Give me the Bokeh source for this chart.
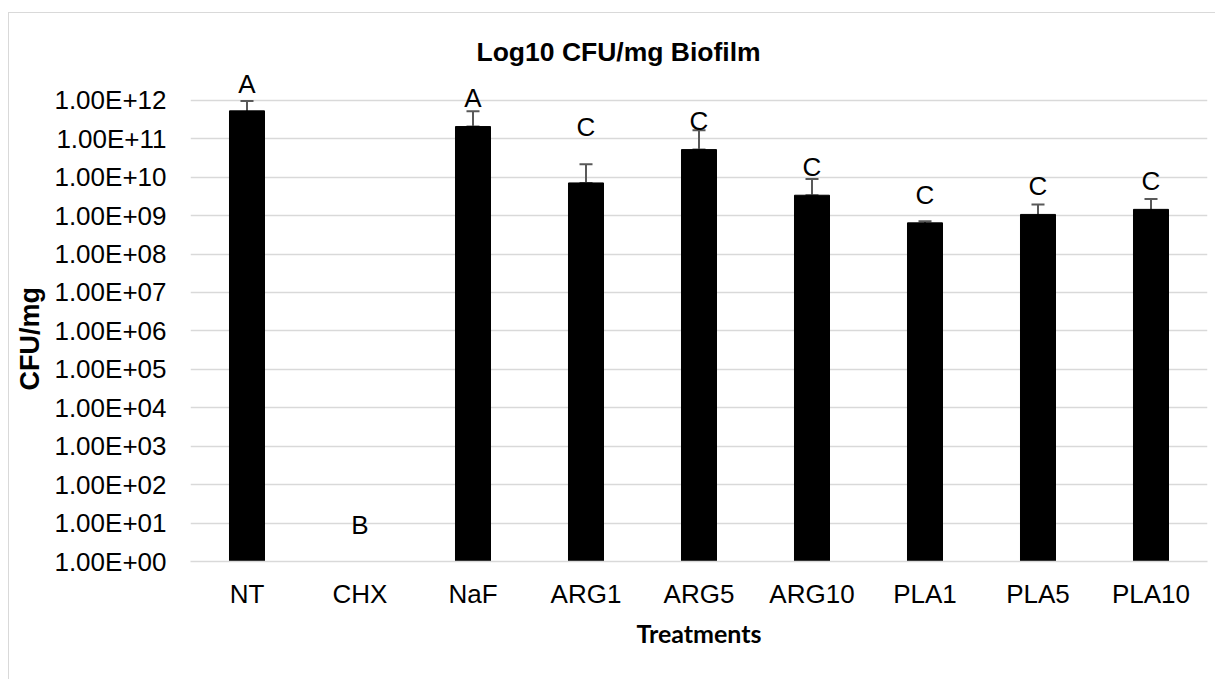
import numpy as np
from bokeh.plotting import figure
from bokeh.models import (ColumnDataSource, Whisker, TeeHead, FixedTicker,
                          CustomJSTickFormatter, Range1d, Title)
from bokeh.core.properties import value
from bokeh.embed import file_html
from bokeh.resources import INLINE

# ---- data ----
treatments = ["NT", "CHX", "NaF", "ARG1", "ARG5", "ARG10", "PLA1", "PLA5", "PLA10"]
cfu_mean = [5.3e11, np.nan, 2.07e11, 7.06e9, 5.2e10, 3.38e9, 6.46e8, 1.07e9, 1.45e9]
cfu_err = [4.2e11, np.nan, 3.1e11, 1.46e10, 1.14e11, 5.6e9, 7.0e7, 8.7e8, 1.25e9]
letters = ["A", "B", "A", "C", "C", "C", "C", "C", "C"]
letter_y = [2.7e12, 8.8, 1.16e12, 2.0e11, 2.8e11, 1.84e10, 3.5e9, 5.8e9, 7.8e9]
y_ticks = [10.0 ** k for k in range(0, 13)]

FONT = "Liberation Sans"

mean = np.array(cfu_mean, dtype=float)
err = np.array(cfu_err, dtype=float)
ok = ~np.isnan(mean)
cats = [t for t, m in zip(treatments, ok) if m]
m_ok = mean[ok]
e_ok = err[ok]
upper = m_ok + e_ok
lower = np.where(m_ok - e_ok > 0, m_ok - e_ok, m_ok)

bar_src = ColumnDataSource(dict(x=cats, top=m_ok, bottom=np.ones_like(m_ok),
                                upper=upper, lower=lower))
lab_src = ColumnDataSource(dict(x=treatments, y=letter_y, t=letters))

p = figure(x_range=treatments, y_axis_type="log",
           y_range=Range1d(1, 10 ** 12.8),
           width=1207, height=667, output_backend="svg", toolbar_location=None,
           min_border_left=181, min_border_right=9, min_border_top=56,
           min_border_bottom=119)
p.styles = {"margin-top": "12px", "margin-left": "8px",
            "border-top": "1.5px solid #d9d9d9",
            "border-left": "1.5px solid #d9d9d9"}

p.title.text = "Log10 CFU/mg Biofilm"
p.title.text_font = FONT
p.title.text_font_size = "26.5px"
p.title.text_font_style = "bold"
p.title.align = "left"
p.title.offset = 286
p.title.standoff = 6
p.title.text_color = "black"

ylab = Title(text="CFU/mg", align="left", offset=171, vertical_align="top",
             standoff=10, text_font=FONT, text_font_size="27px",
             text_font_style="bold", text_color="black")
p.add_layout(ylab, "left")

p.vbar(x="x", top="top", bottom="bottom", width=0.31, source=bar_src,
       fill_color="black", line_color="black")

w = Whisker(source=bar_src, base="x", upper="upper", lower="lower",
            line_color="#595959", line_width=2,
            upper_head=TeeHead(size=13, line_color="#595959", line_width=2),
            lower_head=TeeHead(size=13, line_color="#595959", line_width=2))
p.add_layout(w)

p.text(x="x", y="y", text="t", source=lab_src, text_align="center",
       text_baseline="middle", text_font=value(FONT), text_font_size="26px",
       text_color="black")

p.outline_line_color = None
p.xgrid.grid_line_color = None
p.ygrid.grid_line_color = "#d9d9d9"
p.ygrid.grid_line_width = 1.5

p.yaxis.ticker = FixedTicker(ticks=y_ticks, minor_ticks=[])
p.yaxis.formatter = CustomJSTickFormatter(code="""
    const e = Math.round(Math.log10(tick));
    return "1.00E+" + (e < 10 ? "0" + e : "" + e);
""")
for ax in (p.xaxis, p.yaxis):
    ax.major_tick_line_color = None
    ax.minor_tick_line_color = None
    ax.major_tick_out = 0
    ax.major_tick_in = 0
    ax.major_label_text_font = FONT
    ax.major_label_text_font_size = "26px"
    ax.major_label_text_color = "black"
p.yaxis.axis_line_color = None
p.xaxis.axis_line_color = "#d9d9d9"
p.xaxis.axis_line_width = 1.5
p.yaxis.major_label_standoff = 24
p.xaxis.major_label_standoff = 17

p.xaxis.axis_label = "Treatments"
p.xaxis.axis_label_text_font = "Lato"
p.xaxis.axis_label_text_font_style = "bold"
p.xaxis.axis_label_text_font_size = "25px"
p.xaxis.axis_label_standoff = 6
p.xaxis.axis_label_text_color = "black"

open("out.html", "w").write(file_html(p, INLINE))
